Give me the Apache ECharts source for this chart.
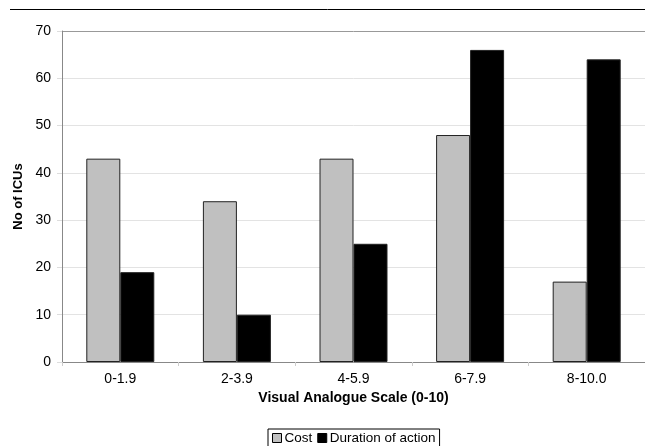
<!DOCTYPE html>
<html>
<head>
<meta charset="utf-8">
<script src="https://cdn.jsdelivr.net/npm/echarts@6/dist/echarts.min.js"></script>
<style>
html,body{margin:0;padding:0;background:#fff;}
#c{width:645px;height:446px;}
</style>
</head>
<body>
<div id="c"></div>
<script>
const categories = ['0-1.9', '2-3.9', '4-5.9', '6-7.9', '8-10.0'];
const costValues = [43, 34, 43, 48, 17];
const durationValues = [19, 10, 25, 66, 64];
const yTicks = {min: 0, max: 70, interval: 10};

const chart = echarts.init(document.getElementById('c'), null, {renderer: 'canvas'});
const font = 'Liberation Sans, Arial, sans-serif';
chart.setOption({
  animation: false,
  backgroundColor: '#fff',
  textStyle: {fontFamily: font},
  grid: {left: 62, right: 0, top: 31, bottom: 84},
  graphic: [{
    type: 'line',
    shape: {x1: 10, y1: 9.5, x2: 645, y2: 9.5},
    style: {stroke: '#000', lineWidth: 1}
  }],
  legend: {
    top: 429,
    left: 268,
    orient: 'horizontal',
    borderColor: '#000',
    borderWidth: 1,
    padding: [2, 4, 6, 4],
    itemWidth: 9,
    itemHeight: 9,
    itemGap: 5,
    textStyle: {fontFamily: font, fontSize: 13.5, color: '#000', padding: [0, 0, 0, -2]},
    data: [
      {name: 'Cost', icon: 'rect', itemStyle: {color: '#c0c0c0', borderColor: '#000', borderWidth: 1}},
      {name: 'Duration of action', icon: 'rect', itemStyle: {color: '#000', borderColor: '#000', borderWidth: 1}}
    ]
  },
  xAxis: {
    type: 'category',
    data: categories,
    name: 'Visual Analogue Scale (0-10)',
    nameLocation: 'middle',
    nameGap: 27,
    nameTextStyle: {fontFamily: font, fontSize: 14, fontWeight: 'bold', color: '#000'},
    axisLine: {lineStyle: {color: '#888', width: 1}},
    axisTick: {show: true, length: 4, lineStyle: {color: '#ccc'}},
    axisLabel: {fontFamily: font, fontSize: 14, color: '#000', margin: 10}
  },
  yAxis: {
    type: 'value',
    min: yTicks.min,
    max: yTicks.max,
    interval: yTicks.interval,
    name: 'No of ICUs',
    nameLocation: 'middle',
    nameGap: 33,
    nameTextStyle: {fontFamily: font, fontSize: 13, fontWeight: 'bold', color: '#000'},
    axisLine: {show: true, lineStyle: {color: '#888', width: 1}},
    axisTick: {show: true, length: 5, lineStyle: {color: '#ddd'}},
    axisLabel: {fontFamily: font, fontSize: 14, color: '#000', margin: 11},
    splitLine: {show: true, lineStyle: {color: ['#e3e3e3','#e3e3e3','#e3e3e3','#e3e3e3','#e3e3e3','#e3e3e3','#e3e3e3','#999'], width: 1}}
  },
  series: [
    {
      name: 'Cost',
      type: 'bar',
      data: costValues,
      barWidth: 34,
      barGap: '0%',
      itemStyle: {color: '#c0c0c0', borderColor: '#222', borderWidth: 1}
    },
    {
      name: 'Duration of action',
      type: 'bar',
      data: durationValues,
      barWidth: 34,
      barGap: '0%',
      itemStyle: {color: '#000', borderColor: '#222', borderWidth: 1}
    }
  ]
});
</script>
</body>
</html>
